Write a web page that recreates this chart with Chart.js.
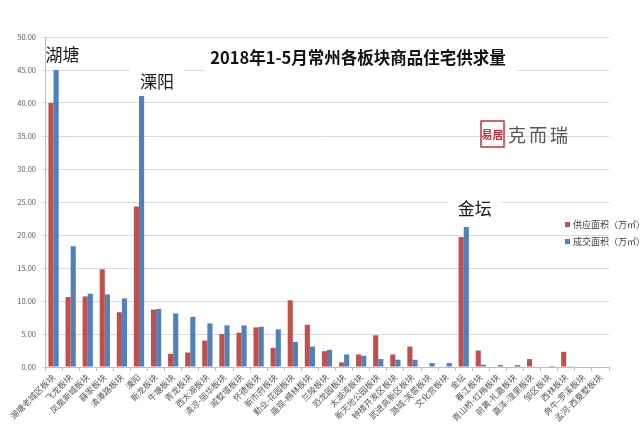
<!DOCTYPE html>
<html>
<head>
<meta charset="utf-8">
<script src="https://cdn.jsdelivr.net/npm/chart.js@4.4.1/dist/chart.umd.min.js"></script>
<style>
  html, body { margin: 0; padding: 0; background: #fff; }
  #wrap { width: 640px; height: 440px; }
</style>
</head>
<body>
<div id="wrap"><canvas id="salesChart" width="640" height="440"></canvas></div>
<script>
const categories = ['湖塘老城区板块', '飞龙板块', '凤凰新城板块', '薛家板块', '清潭路板块', '溧阳',
  '新龙板块', '牛塘板块', '青龙板块', '西太湖板块', '清凉-丽华板块', '戚墅堰板块', '怀德板块',
  '新市府板块', '勤业-花园板块', '遥观-横林板块', '兰陵板块', '恐龙园板块', '太湖湾板块',
  '新天地公园板块', '钟楼开发区板块', '武进高新区板块', '潞城-芙蓉板块', '文化宫板块', '金坛',
  '春江板块', '青山桥-红梅板块', '前黄-礼嘉板块', '嘉泽-湟里板块', '邹区板块', '西林板块',
  '奔牛-罗溪板块', '孟河-西夏墅板块'];
const supplyArea = [40.0, 10.6, 10.7, 14.8, 8.3, 24.3, 8.7, 2.0, 2.2, 4.0, 5.0, 5.2, 6.0,
  2.9, 10.1, 6.4, 2.4, 0.7, 1.9, 4.8, 1.9, 3.1, 0, 0, 19.7,
  2.5, 0, 0, 1.2, 0, 2.3, 0, 0];
const dealArea = [45.0, 18.3, 11.1, 11.0, 10.4, 41.1, 8.8, 8.1, 7.6, 6.6, 6.3, 6.3, 6.1,
  5.7, 3.8, 3.1, 2.6, 1.9, 1.7, 1.2, 1.1, 1.1, 0.6, 0.6, 21.2,
  0.35, 0.3, 0.3, 0.1, 0.15, 0.1, 0, 0];
const seriesNames = ['供应面积（万㎡）', '成交面积（万㎡）'];
const yTickValues = [0, 5, 10, 15, 20, 25, 30, 35, 40, 45, 50];
const chartTitle = '2018年1-5月常州各板块商品住宅供求量';

const FONT = '"Noto Sans CJK SC", "Noto Sans", sans-serif';

// callouts, title, logo and legend drawn on top
const overlay = {
  id: 'overlay',
  afterDraw(chart) {
    const ctx = chart.ctx;
    const x = chart.scales.x;
    const y = chart.scales.y;
    ctx.save();

    const callouts = [
      { text: '湖塘', index: 0, value: 47.3, dx: 9 },
      { text: '溧阳', index: 5, value: 43.2, dx: 18 },
      { text: '金坛', index: 24, value: 24.0, dx: 11 }
    ];
    ctx.font = '17px ' + FONT;
    ctx.textAlign = 'center';
    ctx.textBaseline = 'middle';
    callouts.forEach(c => {
      const cx = x.getPixelForValue(c.index) + c.dx;
      const cy = y.getPixelForValue(c.value);
      const w = ctx.measureText(c.text).width;
      if (c.index !== 0) {
        ctx.fillStyle = '#fff';
        ctx.fillRect(cx - w / 2 - 10, cy - 14, w + 20, 28);
      }
      ctx.fillStyle = '#1a1a1a';
      ctx.fillText(c.text, cx, cy);
    });

    // title with white box
    ctx.fillStyle = '#fff';
    ctx.fillRect(205, 45, 312, 28);
    ctx.font = 'bold 16.5px ' + FONT;
    ctx.fillStyle = '#111';
    ctx.fillText(chartTitle, 358, 58);

    // logo
    ctx.fillStyle = '#fff';
    ctx.fillRect(480, 120, 25, 28);
    ctx.strokeStyle = '#c8323a';
    ctx.lineWidth = 1.5;
    ctx.strokeRect(481, 121, 23, 26);
    ctx.fillStyle = '#c8323a';
    ctx.font = 'bold 11px ' + FONT;
    ctx.fillText('易居', 492.5, 134.5);
    ctx.fillStyle = '#555';
    ctx.font = '18px ' + FONT;
    ['克', '而', '瑞'].forEach((ch, i) => ctx.fillText(ch, 517 + i * 21, 135));

    // legend
    ctx.font = '9px ' + FONT;
    ctx.textAlign = 'left';
    chart.data.datasets.forEach((ds, i) => {
      const ly = 225 + i * 17;
      ctx.fillStyle = ds.backgroundColor;
      ctx.fillRect(565, ly - 3, 5, 5);
      ctx.fillStyle = '#404040';
      ctx.fillText(ds.label, 573, ly);
    });
    ctx.restore();
  }
};

new Chart(document.getElementById('salesChart').getContext('2d'), {
  type: 'bar',
  data: {
    labels: categories,
    datasets: [{
      label: seriesNames[0],
      data: supplyArea,
      backgroundColor: '#c0504d',
      barPercentage: 1.0,
      categoryPercentage: 0.6
    }, {
      label: seriesNames[1],
      data: dealArea,
      backgroundColor: '#4f81bd',
      barPercentage: 1.0,
      categoryPercentage: 0.6
    }]
  },
  options: {
    responsive: false,
    animation: false,
    layout: { padding: { top: 37, right: 31, left: 0, bottom: 0 } },
    plugins: {
      legend: { display: false },
      tooltip: { enabled: false }
    },
    scales: {
      x: {
        grid: { drawOnChartArea: false, drawTicks: true, tickLength: 4, offset: true, color: '#bfbfbf' },
        border: { color: '#bfbfbf' },
        ticks: {
          autoSkip: false,
          minRotation: 45,
          maxRotation: 45,
          padding: 1,
          color: '#595959',
          font: { family: FONT, size: 8.5 }
        },
        afterFit(scale) { scale.height = 73; }
      },
      y: {
        min: 0,
        max: 50,
        afterBuildTicks(scale) { scale.ticks = yTickValues.map(v => ({ value: v })); },
        grid: { color: '#d9d9d9', tickLength: 3 },
        border: { color: '#bfbfbf' },
        ticks: {
          color: '#595959',
          padding: 6,
          font: { family: FONT, size: 7.5 },
          callback: v => Number(v).toFixed(2)
        },
        afterFit(scale) { scale.width = 45; }
      }
    }
  },
  plugins: [overlay]
});
</script>
</body>
</html>
